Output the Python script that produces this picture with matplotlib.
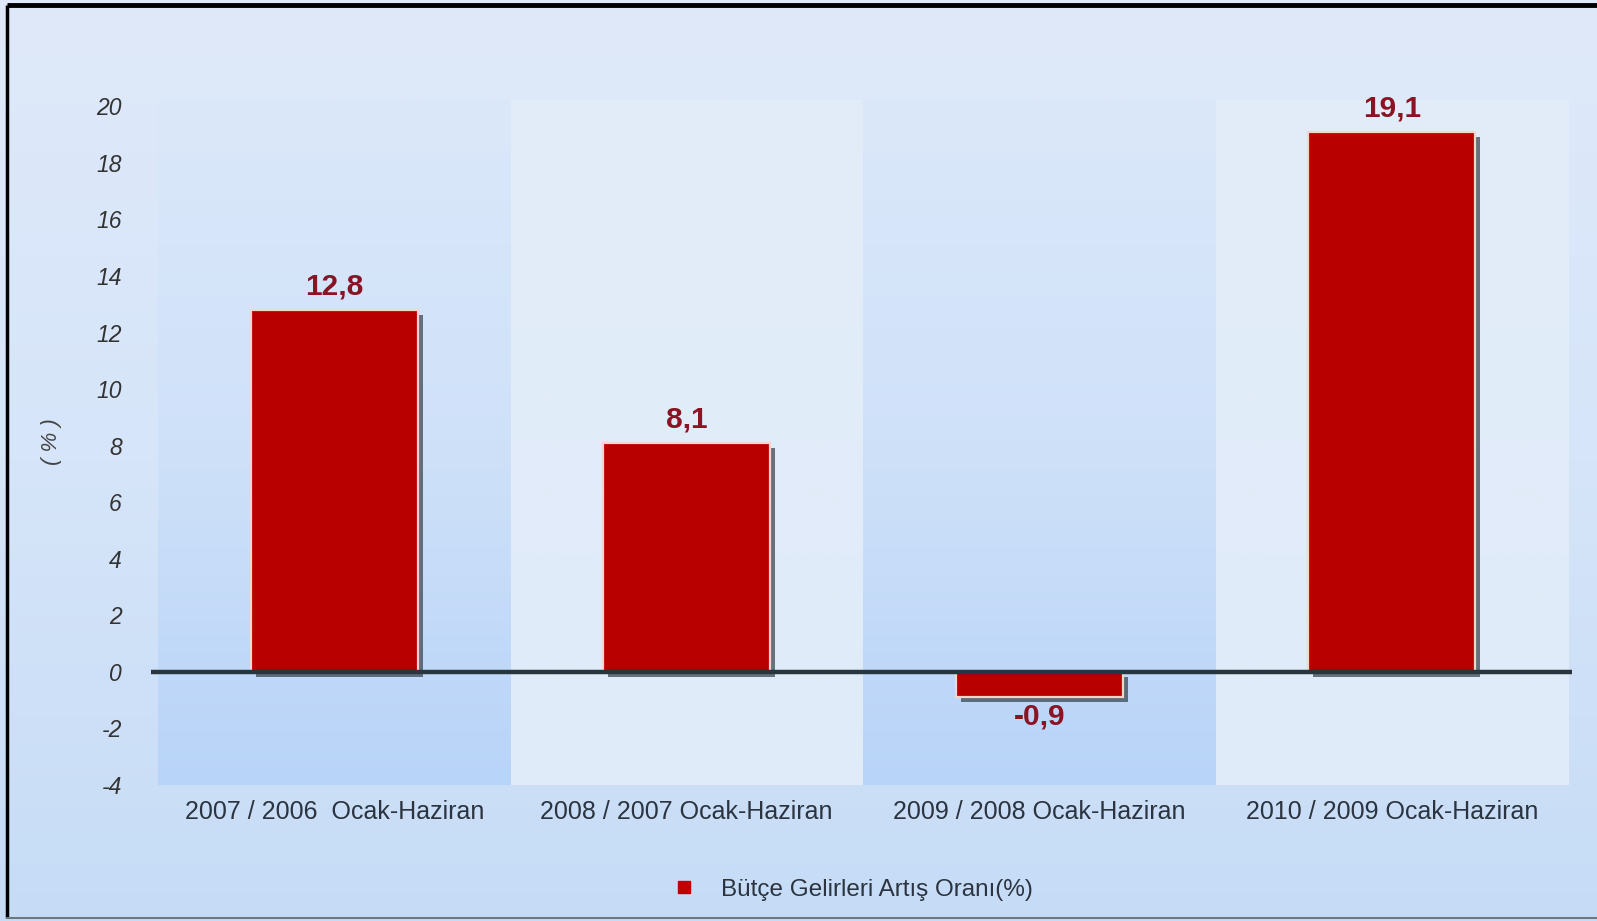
import matplotlib
matplotlib.use("Agg")
import matplotlib.pyplot as plt
import numpy as np
from matplotlib.lines import Line2D
from matplotlib.colors import LinearSegmentedColormap

plt.rcParams["font.family"] = ["Liberation Sans", "DejaVu Sans"]

categories = ["2007 / 2006  Ocak-Haziran", "2008 / 2007 Ocak-Haziran",
              "2009 / 2008 Ocak-Haziran", "2010 / 2009 Ocak-Haziran"]
values = [12.8, 8.1, -0.9, 19.1]
value_labels = ["12,8", "8,1", "-0,9", "19,1"]
yticks = [-4, -2, 0, 2, 4, 6, 8, 10, 12, 14, 16, 18, 20]
series_name = "Bütçe Gelirleri Artış Oranı(%)"

W, H = 1597, 921
fig = plt.figure(figsize=(W / 100, H / 100), dpi=100)
fig.patch.set_facecolor("white")

# background gradient for the whole picture
bg = fig.add_axes([0, 0, 1, 1], zorder=-10)
bg_cmap = LinearSegmentedColormap.from_list("bg", ["#dfe9f9", "#d6e5f9", "#c6dcf6"])
bg.imshow(np.linspace(0, 1, 256).reshape(-1, 1), cmap=bg_cmap, aspect="auto",
          extent=(0, 1, 0, 1), origin="upper")
bg.set_xlim(0, 1)
bg.set_ylim(0, 1)
bg.axis("off")
# frame: black top/left, grey bottom
bg.plot([7 / W, 1], [1 - 5 / H, 1 - 5 / H], color="black", lw=3.5, solid_capstyle="butt")
bg.plot([7 / W, 7 / W], [1 - 5 / H, 3 / H], color="black", lw=2.5, solid_capstyle="butt")
bg.plot([7 / W, 1], [3 / H, 3 / H], color="#6d7780", lw=1.5)

ax = fig.add_axes([158 / W, (H - 785) / H, 1410 / W, (785 - 78) / H])
ax.patch.set_alpha(0)
x = np.arange(len(categories))

# alternating column bands
dark = LinearSegmentedColormap.from_list("dark", ["#dbe8fa", "#cfe1f9", "#b8d4f8"])
light = LinearSegmentedColormap.from_list("light", ["#e3edf9", "#e0ebf9"])
grad = np.linspace(0, 1, 256).reshape(-1, 1)
for i in x:
    ax.imshow(grad, cmap=dark if i % 2 == 0 else light, aspect="auto",
              extent=(i - 0.5, i + 0.5, -4, 20.2), origin="upper", zorder=0)

w = 0.475
dx, dy = 5 / 352, 5 / 28.3
ax.bar(x + dx, values, width=w, bottom=-dy, color="#3a4a52", alpha=0.75, zorder=2)
ax.bar(x, values, width=w, color="#b80000", edgecolor="#f5d5cc", linewidth=1.6, zorder=3)

ax.plot([-0.52, 3.51], [0, 0], color="#28353f", lw=3.2, zorder=4,
        solid_capstyle="butt", clip_on=False)

for xi, v, lab in zip(x, values, value_labels):
    if v >= 0:
        ax.annotate(lab, (xi, v), xytext=(0, 7), textcoords="offset points",
                    ha="center", va="bottom", fontsize=21.5, fontweight="bold",
                    color="#8a1424", zorder=5)
    else:
        ax.annotate(lab, (xi, v), xytext=(0, -4), textcoords="offset points",
                    ha="center", va="top", fontsize=21.5, fontweight="bold",
                    color="#8a1424", zorder=5)

ax.set_xlim(-0.5, 3.5)
ax.set_ylim(-4, 21)
ax.set_yticks(yticks)
ax.set_yticklabels([str(t) for t in yticks], fontstyle="italic", fontsize=16.5, color="#333333")
ax.set_xticks(x)
ax.set_xticklabels(categories, fontsize=18, color="#2b3440")
ax.tick_params(axis="y", length=0, pad=26)
ax.tick_params(axis="x", length=0, pad=11)
for s in ax.spines.values():
    s.set_visible(False)
ax.set_ylabel("( % )", fontstyle="italic", fontsize=16, color="#444444")
ax.yaxis.set_label_coords(-0.068, 0.485)

handle = Line2D([], [], marker="s", color="none", markerfacecolor="#c00000",
                markeredgecolor="#c00000", markersize=8)
fig.legend([handle], [series_name], loc="center", bbox_to_anchor=(0.53, 0.034),
           frameon=False, fontsize=17.5, handletextpad=0.5, labelcolor="#2b3440")

plt.savefig("out.png", dpi=100)
